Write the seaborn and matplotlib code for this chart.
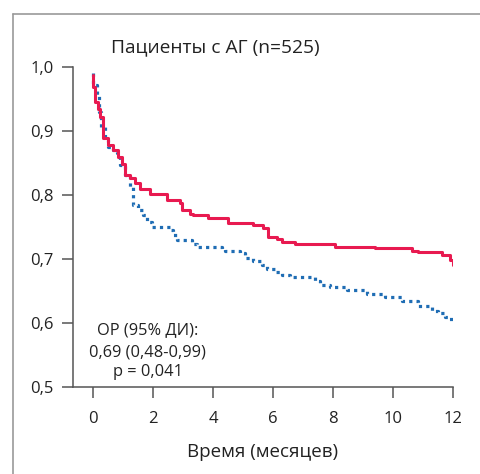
import matplotlib
matplotlib.use("Agg")
import matplotlib.pyplot as plt
import seaborn as sns
import pandas as pd
from matplotlib.lines import Line2D

# данные кривых выживаемости
red_t = [0, 0.01, 0.07, 0.15, 0.23, 0.34, 0.51, 0.68, 0.84, 0.95, 1.07, 1.23, 1.4, 1.57,
         1.9, 2.46, 2.9, 2.96, 3.23, 3.34, 3.84, 4.51, 5.34, 5.68, 5.84, 6.12, 6.29, 6.73,
         8.07, 9.4, 10.62, 10.84, 11.62, 11.9, 11.99]
red_s = [0.987, 0.969, 0.946, 0.935, 0.922, 0.889, 0.878, 0.870, 0.860, 0.849, 0.831, 0.826,
         0.818, 0.810, 0.801, 0.792, 0.788, 0.777, 0.771, 0.768, 0.764, 0.757, 0.753, 0.749,
         0.735, 0.731, 0.727, 0.724, 0.719, 0.717, 0.713, 0.711, 0.707, 0.698, 0.690]

blue_t = [0, 0.01, 0.12, 0.21, 0.26, 0.4, 0.51, 0.68, 0.79, 0.9, 1.07, 1.23, 1.32, 1.34,
          1.51, 1.68, 1.79, 1.96, 2.57, 2.68, 2.79, 3.29, 3.46, 4.29, 4.4, 4.9, 5.07, 5.34,
          5.62, 5.79, 6.07, 6.29, 6.57, 7.4, 7.57, 7.9, 8.46, 9.12, 9.73, 10.29, 10.84, 11.29,
          11.51, 11.73, 11.88, 12.0]
blue_s = [0.99, 0.972, 0.954, 0.930, 0.907, 0.886, 0.875, 0.870, 0.865, 0.847, 0.832, 0.813,
          0.800, 0.785, 0.776, 0.769, 0.758, 0.750, 0.745, 0.738, 0.730, 0.724, 0.718, 0.716,
          0.713, 0.709, 0.702, 0.697, 0.691, 0.684, 0.680, 0.675, 0.672, 0.666, 0.660, 0.656,
          0.652, 0.645, 0.640, 0.634, 0.626, 0.618, 0.615, 0.610, 0.606, 0.603]

x_ticks = [0, 2, 4, 6, 8, 10, 12]
y_ticks = [0.5, 0.6, 0.7, 0.8, 0.9, 1.0]

sns.set_theme(style="ticks")
plt.rcParams['font.family'] = ['Open Sans', 'DejaVu Sans']

axis_col = '#555555'
text_col = '#222222'
fig = plt.figure(figsize=(4.8, 4.74), dpi=100)
ax = fig.add_axes([73/480, 1 - 387/474, 380/480, 320/474])

df_red = pd.DataFrame({'t': red_t, 's': red_s})
df_blue = pd.DataFrame({'t': blue_t, 's': blue_s})
sns.lineplot(data=df_blue, x='t', y='s', ax=ax, color='#1f6db4', lw=2.3,
             linestyle=(0, (1, 1.3)), drawstyle='steps-post', estimator=None)
sns.lineplot(data=df_red, x='t', y='s', ax=ax, color='#e81a50', lw=2.2,
             drawstyle='steps-post', estimator=None)

ax.set_xlim(-0.67, 12)
ax.set_ylim(0.5, 1.0)
ax.set_xticks(x_ticks)
ax.set_xticklabels([str(v) for v in x_ticks])
ax.set_yticks(y_ticks)
ax.set_yticklabels([f'{v:.1f}'.replace('.', ',') for v in y_ticks])
ax.tick_params(axis='both', length=8, width=1.1, color=axis_col, labelsize=12,
               labelcolor=text_col)
ax.tick_params(axis='y', pad=6)
ax.tick_params(axis='x', pad=9)
for side in ['top', 'right']:
    ax.spines[side].set_visible(False)
for side in ['left', 'bottom']:
    ax.spines[side].set_color(axis_col)
    ax.spines[side].set_linewidth(1.1)
ax.set_xlabel('Время (месяцев)', fontsize=13.5, color=text_col, labelpad=12)
ax.set_ylabel('')

ax.text(0.374, 1.0625, 'Пациенты с АГ (n=525)', transform=ax.transAxes,
        ha='center', va='center', fontsize=13.8, color=text_col)
ax.text(0.197, 0.178, 'ОР (95% ДИ):', transform=ax.transAxes, ha='center', va='center',
        fontsize=11.8, color=text_col)
ax.text(0.197, 0.109, '0,69 (0,48-0,99)', transform=ax.transAxes, ha='center', va='center',
        fontsize=11.8, color=text_col)
ax.text(0.197, 0.047, 'p = 0,041', transform=ax.transAxes, ha='center', va='center',
        fontsize=11.8, color=text_col)

# рамка вокруг рисунка
fig.add_artist(Line2D([13/480, 13/480], [0, 1 - 14/474], color='#999999', lw=1.2))
fig.add_artist(Line2D([13/480, 1], [1 - 14/474, 1 - 14/474], color='#999999', lw=1.2))

fig.savefig('out.png', dpi=100)
